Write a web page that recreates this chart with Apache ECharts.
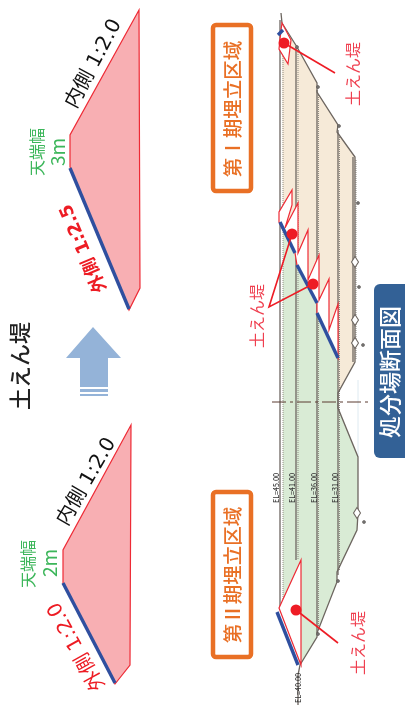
<!DOCTYPE html>
<html><head><meta charset="utf-8">
<style>html,body{margin:0;padding:0;background:#fff}#c{width:405px;height:714px}</style>
<script src="https://cdn.jsdelivr.net/npm/echarts@6/dist/echarts.min.js"></script>
</head><body><div id="c"></div>
<script>
// Diagram outlines (drawing units)
const bermUpper = [[139,10],[70,135],[70,167],[129,310],[140,288]];
const bermLower = [[131,425],[63,550],[63,583],[115,684],[130,665]];
const slopeUpper = [[70,168],[129,309]];
const slopeLower = [[63,583],[115,683]];
const arrow = [[93,327],[121,358],[108,358],[108,387],[80,387],[80,358],[66,358]];
const arrowStripes = [[80,389,108,392],[80,394,108,396]];
const sectionOutline = [[281,13],[282,23],[297,47],[317,83],[317,92],[338,125],[337,132],[355,157],[355,362],[338,393],[338,408],[358,457],[358,513],[357,530],[337,572],[337,582],[317,633],[317,637],[300,665],[298,675],[298,705]];
const beigeArea = [[282,25],[297,47],[317,83],[317,92],[338,125],[337,132],[355,157],[355,362],[338,393],[338,358],[317,313],[317,303],[297,265],[295,253],[283,228]];
const greenArea = [[283,225],[295,253],[297,265],[317,303],[317,313],[338,358],[338,408],[358,457],[358,513],[357,530],[337,572],[337,582],[317,633],[317,637],[300,665],[283,610]];
const benchLines = [[280,20,610],[296,47,560],[317,90,633],[338,130,575],[353,157,362]];
const dottedLines = [[283,50,608],[298,50,560],[318.5,95,630],[339.5,135,570],[356,160,360]];
const centreLine = [[272,402],[368,402]];
const bermTop = [[282,23],[291,40],[288,64],[279,49],[281,30]];
const bermSaw = [[279,222],[279,212],[292,190],[292,205],[285,228],[298,203],[298,253],[308,230],[308,280],[319,255],[319,300],[329,279],[329,330],[338,304],[338,358],[317,313],[317,303],[297,265],[295,253]];
const bermBottom = [[279,608],[301,560],[301,665]];
const blueSegments = [[[278,35],[283,30]],[[280,222],[295,253]],[[297,265],[317,303]],[[317,313],[338,358]],[[277,612],[298,665]]];
const pointers = [[[284,43],[335,73]],[[292,234],[269,307],[313,284]],[[296,610],[338,643]]];
const dots = [[284,43],[292,234],[313,284],[296,610]];
const fittings = [[355,262],[355,320],[355,343],[357,513]];
const smallFittings = [[358,203],[359,287],[363,345],[364,522],[297,47],[318,87],[339,126],[338,581],[318,634]];
const boxes = [[213,25,251,191],[213,492,251,657]];
const panel = [374,284,412,458];
const labels = [
  {t:'土えん堤',x:20,y:366,r:90,s:22,c:'#222222',w:500},
  {t:'内側 1:2.0',x:94,y:64,r:62,s:20,c:'#111111',w:400},
  {t:'外側 1:2.5',x:84,y:248,r:113,s:18,c:'#ed1c24',w:700},
  {t:'天端幅',x:37,y:152,r:90,s:16,c:'#3cb65a',w:400},
  {t:'3m',x:58,y:152,r:90,s:19,c:'#3cb65a',w:400},
  {t:'内側 1:2.0',x:87,y:482,r:60,s:20,c:'#111111',w:400},
  {t:'外側 1:2.0',x:77,y:646,r:119,s:20,c:'#ed1c24',w:400},
  {t:'天端幅',x:28,y:564,r:90,s:16,c:'#3cb65a',w:400},
  {t:'2m',x:50,y:563,r:90,s:19,c:'#3cb65a',w:400},
  {t:'第Ⅰ期埋立区域',x:233,y:109,r:90,s:19.5,c:'#e97025',w:500},
  {t:'第Ⅱ期埋立区域',x:233,y:575,r:90,s:19.5,c:'#e97025',w:500},
  {t:'処分場断面図',x:390,y:372,r:90,s:22,c:'#ffffff',w:500},
  {t:'土えん堤',x:353,y:74,r:90,s:16,c:'#ef3f4f',w:400},
  {t:'土えん堤',x:257,y:316,r:90,s:16,c:'#ef3f4f',w:400},
  {t:'土えん堤',x:358,y:643,r:90,s:16,c:'#ef3f4f',w:400},
  {t:'EL=45.00',x:276,y:488,r:90,s:7,c:'#333333',w:500},
  {t:'EL=41.00',x:292,y:488,r:90,s:7,c:'#333333',w:500},
  {t:'EL=36.00',x:314,y:488,r:90,s:7,c:'#333333',w:500},
  {t:'EL=31.00',x:335,y:488,r:90,s:7,c:'#333333',w:500},
  {t:'EL=40.00',x:298,y:688,r:90,s:7,c:'#333333',w:500}
];

const FONT = '"DejaVu Sans","Noto Sans CJK JP",sans-serif';
const CJK = '"Noto Sans CJK JP","Noto Sans",sans-serif';
function poly(pts, fill, stroke, lw, z){
  return {type:'custom',coordinateSystem:'cartesian2d',clip:false,z,silent:true,
    data:pts,encode:{x:0,y:1},
    renderItem(p,api){
      if(p.dataIndex!==0) return {type:'group',children:[]};
      return {type:'polygon',shape:{points:pts.map(q=>api.coord(q))},
        style:{fill,stroke:stroke||'none',lineWidth:lw||0,lineJoin:'miter'}};
    }};
}
function rects(list, fill, stroke, lw, r, z){
  return {type:'custom',coordinateSystem:'cartesian2d',clip:false,z,silent:true,
    data:list,encode:{x:0,y:1},
    renderItem(p,api){
      const a=api.coord([api.value(0),api.value(1)]),b=api.coord([api.value(2),api.value(3)]);
      return {type:'rect',shape:{x:a[0],y:a[1],width:b[0]-a[0],height:b[1]-a[1],r},
        style:{fill,stroke:stroke||'none',lineWidth:lw||0}};
    }};
}
function line(pts,color,width,z,type){
  return {type:'line',data:pts,showSymbol:false,symbol:'none',clip:false,silent:true,z,
    lineStyle:{color,width,type:type||'solid',cap:'butt',join:'miter'}};
}
const series = [
  poly(bermUpper,'#f8afb3','#ee2a35',1.2,5),
  poly(bermLower,'#f8afb3','#ee2a35',1.2,5),
  line(slopeUpper,'#2f4f9f',3.4,6),
  line(slopeLower,'#2f4f9f',3.4,6),
  poly(arrow,'#94b3d8',null,0,5),
  rects(arrowStripes,'#94b3d8',null,0,0,5),
  poly(beigeArea,'#f6ead8',null,0,2),
  poly(greenArea,'#d9ebd5',null,0,2),
  ...benchLines.map(v=>line([[v[0],v[1]],[v[0],v[2]]],'#6d6662',1.3,3)),
  ...dottedLines.map(v=>line([[v[0],v[1]],[v[0],v[2]]],'#8f8a82',1,3,'dotted')),
  line(sectionOutline,'#6d6660',1.3,4),
  line(centreLine,'#5a3a30',1,4,[14,4,3,4]),
  line([[358,380],[358,457]],'#d5e5ee',0.8,1),
  poly(bermTop,'#ffffff','#ee2a35',1.2,6),
  poly(bermSaw,'#ffffff','#ee2a35',1.2,6),
  poly(bermBottom,'#ffffff','#ee2a35',1.2,6),
  ...blueSegments.map(s=>line(s,'#2f4f9f',3.4,7)),
  ...pointers.map(s=>line(s,'#ee1c25',1.6,8)),
  {type:'scatter',data:dots,symbolSize:11,clip:false,silent:true,z:9,itemStyle:{color:'#ee1c25',opacity:1}},
  {type:'scatter',data:fittings,symbol:'diamond',symbolSize:[7,11],clip:false,silent:true,z:5,itemStyle:{color:'#fff',borderColor:'#6d6660',borderWidth:1.1,opacity:1}},
  {type:'scatter',data:smallFittings,symbolSize:3,clip:false,silent:true,z:5,itemStyle:{color:'#777',borderColor:'#55504c',borderWidth:0.6,opacity:1}},
  rects(boxes,'#ffffff','#e97025',4.5,3,5),
  rects([panel],'#336196',null,0,6,5),
  {type:'scatter',symbolSize:1,clip:false,silent:true,z:12,itemStyle:{color:'rgba(0,0,0,0)'},
    data:labels.map(l=>({value:[l.x,l.y],label:{show:true,position:'inside',formatter:l.t,rotate:l.r,
      fontSize:l.s,color:l.c,fontWeight:l.w,fontFamily:/1:2/.test(l.t)?FONT:CJK,align:'center',verticalAlign:'middle',opacity:1}}))}
];
const chart = echarts.init(document.getElementById('c'),null,{renderer:'canvas'});
chart.setOption({animation:false,backgroundColor:'#ffffff',
  grid:{left:0,right:0,top:0,bottom:0},
  xAxis:{type:'value',min:0,max:405,show:false},
  yAxis:{type:'value',min:0,max:714,inverse:true,show:false},
  series});
</script></body></html>
